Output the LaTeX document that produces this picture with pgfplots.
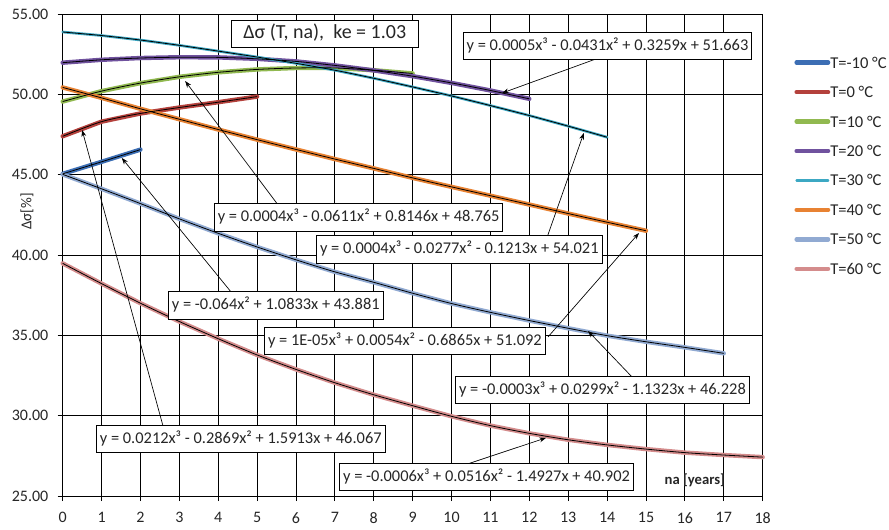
\documentclass[border=0pt]{standalone}
\usepackage{fontspec}
\setmainfont{Carlito}
\usepackage{pgfplots}
\usepackage{pgfplotstable}
\pgfplotsset{compat=1.18}
\usetikzlibrary{arrows.meta}

\definecolor{cM10}{RGB}{60,110,180}
\definecolor{cP0}{RGB}{180,65,60}
\definecolor{cP10}{RGB}{145,185,80}
\definecolor{cP20}{RGB}{112,82,158}
\definecolor{cP30}{RGB}{60,168,195}
\definecolor{cP40}{RGB}{232,130,50}
\definecolor{cP50}{RGB}{145,170,210}
\definecolor{cP60}{RGB}{212,140,140}
\definecolor{txt}{RGB}{38,38,38}

% Delta sigma [%] versus age na [years], one table per temperature
\pgfplotstableread{
x y
0 45.05
1 45.80
2 46.56
}\tM

\pgfplotstableread{
x y
0 47.39
1 48.30
2 48.81
3 49.18
4 49.51
5 49.86
}\tA

\pgfplotstableread{
x y
0 49.55
1 50.20
2 50.70
3 51.09
4 51.37
5 51.55
6 51.64
7 51.64
8 51.50
9 51.30
}\tB

\pgfplotstableread{
x y
0 51.97
1 52.15
2 52.26
3 52.31
4 52.30
5 52.21
6 52.05
7 51.80
8 51.49
9 51.13
10 50.71
11 50.24
12 49.72
}\tC

\pgfplotstableread{
x y
0 53.88
1 53.66
2 53.38
3 53.05
4 52.69
5 52.32
6 51.93
7 51.50
8 51.00
9 50.46
10 49.90
11 49.30
12 48.68
13 48.02
14 47.33
}\tD

\pgfplotstableread{
x y
0 50.43
1 49.78
2 49.10
3 48.45
4 47.81
5 47.18
6 46.57
7 45.97
8 45.39
9 44.80
10 44.24
11 43.69
12 43.14
13 42.58
14 42.04
15 41.51
}\tE

\pgfplotstableread{
x y
0 45.02
1 44.12
2 43.20
3 42.25
4 41.35
5 40.50
6 39.70
7 38.95
8 38.30
9 37.62
10 36.98
11 36.43
12 35.92
13 35.44
14 34.98
15 34.60
16 34.25
17 33.88
}\tF

\pgfplotstableread{
x y
0 39.48
1 38.22
2 37.00
3 35.86
4 34.79
5 33.78
6 32.88
7 32.05
8 31.30
9 30.62
10 29.96
11 29.38
12 28.90
13 28.50
14 28.18
15 27.92
16 27.70
17 27.55
18 27.42
}\tG

\tikzset{
  eqbox/.style={draw=black, line width=0.6pt, fill=white, text=txt,
    font=\fontsize{12.3}{14}\selectfont, inner xsep=2.5pt, inner ysep=4.5pt,
    text height=9pt, text depth=2.6pt},
  callout/.style={-{Stealth[length=5pt,width=3.6pt]}, line width=0.5pt, black},
  series/.style={line width=3.3pt, line join=round, line cap=round},
  trend/.style={black, line width=0.6pt, smooth},
}

\begin{document}
\begin{tikzpicture}
\useasboundingbox (-47pt,-24.75pt) rectangle (619.75pt,372pt);
\begin{axis}[
  at={(0pt,0pt)}, anchor=south west,
  scale only axis, width=525pt, height=361.5pt,
  xmin=0, xmax=18, ymin=25, ymax=55,
  xtick={0,1,...,18}, ytick={25,30,...,55},
  xtick pos=bottom, ytick pos=left,
  tick align=outside, major tick length=3.75pt,
  grid=major, major grid style={black, line width=0.7pt},
  axis line style={black, line width=0.7pt},
  tick style={black, line width=0.7pt},
  clip=false,
  /pgf/number format/assume math mode=true,
  ticklabel style={font=\fontsize{12}{14}\selectfont, text=txt},
  xticklabel style={yshift=-5pt},
  yticklabel style={xshift=-3.5pt, /pgf/number format/.cd, fixed, fixed zerofill, precision=2},
  ylabel={Δσ[\%]},
  ylabel style={at={(axis description cs:-0.051,0.59)}, anchor=center,
    font=\fontsize{11.3}{13}\selectfont, text=txt},
  xlabel={na [years]},
  xlabel style={at={(axis description cs:0.903,0.033)}, anchor=center,
    font=\bfseries\fontsize{11}{13}\selectfont, text=txt},
  legend cell align=left,
  legend image code/.code={\draw[#1] (1.7pt,0pt) -- (25.3pt,0pt);},
  legend style={draw=none, fill=none, at={(axis description cs:1.045,0.914)},
    anchor=north west, font=\fontsize{12.4}{14}\selectfont, text=txt,
    row sep=11.8pt, inner sep=0pt,
    nodes={inner sep=0pt, text height=9.3pt, text depth=1pt}},
]
\addplot[cM10, series] table {\tM}; \addlegendentry{T=-10 °C}
\addplot[cP0,  series] table {\tA}; \addlegendentry{T=0 °C}
\addplot[cP10, series] table {\tB}; \addlegendentry{T=10 °C}
\addplot[cP20, series] table {\tC}; \addlegendentry{T=20 °C}
\addplot[cP30, series, line width=2pt] table {\tD}; \addlegendentry{T=30 °C}
\addplot[cP40, series] table {\tE}; \addlegendentry{T=40 °C}
\addplot[cP50, series] table {\tF}; \addlegendentry{T=50 °C}
\addplot[cP60, series] table {\tG}; \addlegendentry{T=60 °C}

% polynomial trend lines
\addplot[trend, forget plot] table {\tM};
\addplot[trend, forget plot] table {\tA};
\addplot[trend, forget plot] table {\tB};
\addplot[trend, forget plot] table {\tC};
\addplot[trend, forget plot] table {\tD};
\addplot[trend, forget plot] table {\tE};
\addplot[trend, forget plot] table {\tF};
\addplot[trend, forget plot] table {\tG};

% callouts from the trend-line equations
\draw[callout] (axis cs:13.71,52.20) -- (axis cs:11.30,50.08);
\draw[callout] (axis cs:5.54,43.11) -- (axis cs:3.15,50.83);
\draw[callout] (axis cs:12.45,41.06) -- (axis cs:13.40,47.59);
\draw[callout] (axis cs:4.35,37.64) -- (axis cs:1.52,46.04);
\draw[callout] (axis cs:12.48,34.90) -- (axis cs:14.82,41.37);
\draw[callout] (axis cs:14.64,32.41) -- (axis cs:13.51,35.27);
\draw[callout] (axis cs:2.58,29.36) -- (axis cs:0.50,47.78);
\draw[callout] (axis cs:10.42,27.00) -- (axis cs:12.43,28.62);

\node[eqbox] at (axis cs:14.01,53.01) {y = 0.0005x³ - 0.0431x² + 0.3259x + 51.663};
\node[eqbox] at (axis cs:7.61,42.34) {y = 0.0004x³ - 0.0611x² + 0.8146x + 48.765};
\node[eqbox] at (axis cs:10.20,40.35) {y = 0.0004x³ - 0.0277x² - 0.1213x + 54.021};
\node[eqbox] at (axis cs:5.48,36.86) {y = -0.064x² + 1.0833x + 43.881};
\node[eqbox] at (axis cs:8.80,34.64) {y = 1E-05x³ + 0.0054x² - 0.6865x + 51.092};
\node[eqbox] at (axis cs:13.88,31.60) {y = -0.0003x³ + 0.0299x² - 1.1323x + 46.228};
\node[eqbox] at (axis cs:4.58,28.55) {y = 0.0212x³ - 0.2869x² + 1.5913x + 46.067};
\node[eqbox] at (axis cs:10.90,26.19) {y = -0.0006x³ + 0.0516x² - 1.4927x + 40.902};

\node[draw=black, line width=0.6pt, fill=white, text=txt,
  font=\fontsize{15}{18}\selectfont, inner xsep=9pt, inner ysep=3pt,
  text height=11pt, text depth=3.5pt] at (axis cs:6.74,53.76)
  {Δσ (T, na),\ \ ke = 1.03};
\end{axis}
\end{tikzpicture}
\end{document}
